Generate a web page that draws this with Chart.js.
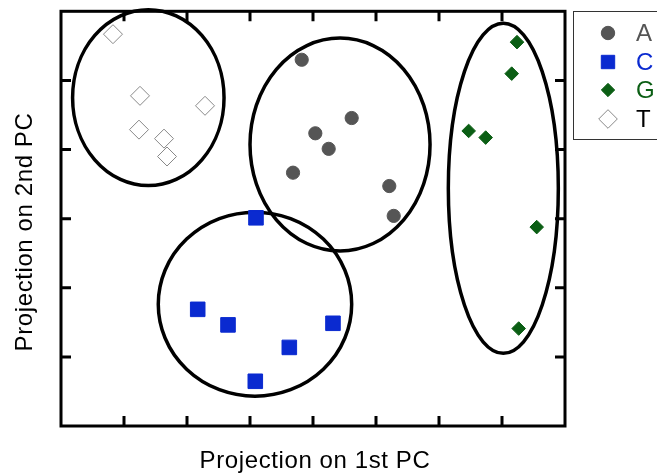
<!DOCTYPE html>
<html><head><meta charset="utf-8">
<script src="https://cdn.jsdelivr.net/npm/chart.js@4.4.1/dist/chart.umd.min.js"></script>
<style>html,body{margin:0;padding:0;background:#fff}#wrap{width:657px;height:473px;position:relative}</style>
</head><body><div id="wrap"><canvas id="c" width="657" height="473"></canvas></div>
<script>
// ---- data (PC units) ----
const seriesLabels = ['A', 'C', 'G', 'T'];
const aX = [3.821, 4.614, 4.037, 4.249, 3.683, 5.211, 5.281];
const aY = [5.299, 4.456, 4.235, 4.010, 3.665, 3.472, 3.040];
const cX = [3.095, 2.170, 2.651, 4.317, 3.624, 3.084];
const cY = [3.012, 1.688, 1.463, 1.486, 1.137, 0.647];
const gX = [7.238, 7.154, 6.471, 6.741, 7.551, 7.265];
const gY = [5.554, 5.098, 4.269, 4.173, 2.878, 1.410];
const tX = [0.825, 1.254, 2.286, 1.238, 1.635, 1.683];
const tY = [5.669, 4.777, 4.633, 4.288, 4.158, 3.899];
const xTicks = [0, 1, 2, 3, 4, 5, 6, 7, 8];
const yTicks = [0, 1, 2, 3, 4, 5, 6];
// cluster ellipses: centre and semi-axes in PC units (T, A, C, G)
const ellipseCx = [1.386, 4.429, 3.079, 7.021];
const ellipseCy = [4.751, 4.072, 1.763, 3.439];
const ellipseRx = [1.202, 1.429, 1.535, 0.873];
const ellipseRy = [1.273, 1.540, 1.331, 2.388];
const xTitle = 'Projection on 1st PC';
const yTitle = 'Projection on 2nd PC';

const pts = (xs, ys) => xs.map((x, i) => ({x: x, y: ys[i]}));
const FONT = '24px "Liberation Sans", Arial, sans-serif';
const legendTextColors = ['#555555', '#0a2ad0', '#0b5e14', '#000000'];

const decor = {
  id: 'decor',
  beforeDatasetsDraw(chart) {
    const ctx = chart.ctx, xs = chart.scales.x, ys = chart.scales.y;
    ctx.save();
    ctx.strokeStyle = '#000';
    ctx.lineWidth = 3.5;
    for (let i = 0; i < ellipseCx.length; i++) {
      const cx = xs.getPixelForValue(ellipseCx[i]);
      const cy = ys.getPixelForValue(ellipseCy[i]);
      const rx = Math.abs(xs.getPixelForValue(ellipseCx[i] + ellipseRx[i]) - cx);
      const ry = Math.abs(ys.getPixelForValue(ellipseCy[i] + ellipseRy[i]) - cy);
      ctx.beginPath();
      ctx.ellipse(cx, cy, rx, ry, 0, 0, Math.PI * 2);
      ctx.stroke();
    }
    ctx.restore();
  },
  afterDraw(chart) {
    const ctx = chart.ctx, xs = chart.scales.x, ys = chart.scales.y;
    const a = chart.chartArea;
    ctx.save();
    // frame
    ctx.strokeStyle = '#000';
    ctx.lineWidth = 3;
    ctx.strokeRect(a.left, a.top, a.right - a.left, a.bottom - a.top);
    // inward ticks on all four sides
    const tl = 10;
    ctx.beginPath();
    xTicks.forEach(v => {
      const px = xs.getPixelForValue(v);
      if (px <= a.left + 1 || px >= a.right - 1) return;
      ctx.moveTo(px, a.bottom); ctx.lineTo(px, a.bottom - tl);
      ctx.moveTo(px, a.top); ctx.lineTo(px, a.top + tl);
    });
    yTicks.forEach(v => {
      const py = ys.getPixelForValue(v);
      if (py <= a.top + 1 || py >= a.bottom - 1) return;
      ctx.moveTo(a.left, py); ctx.lineTo(a.left + tl, py);
      ctx.moveTo(a.right, py); ctx.lineTo(a.right - tl, py);
    });
    ctx.stroke();
    // axis titles
    ctx.fillStyle = '#000';
    ctx.font = FONT;
    try { ctx.letterSpacing = '0.6px'; } catch (e) {}
    ctx.textAlign = 'center';
    ctx.textBaseline = 'alphabetic';
    ctx.fillText(xTitle, (a.left + a.right) / 2 + 2, 468);
    ctx.save();
    ctx.translate(32, 232);
    ctx.rotate(-Math.PI / 2);
    ctx.fillText(yTitle, 0, 0);
    ctx.restore();
    try { ctx.letterSpacing = '0px'; } catch (e) {}
    // legend
    ctx.lineWidth = 1;
    ctx.strokeStyle = '#333';
    ctx.strokeRect(573.5, 11.5, 120, 128);
    const rows = [33, 62, 90, 119];
    chart.data.datasets.forEach((ds, i) => {
      const x = 608, y = rows[i];
      ctx.save();
      ctx.fillStyle = ds.backgroundColor;
      ctx.strokeStyle = ds.borderColor;
      ctx.lineWidth = ds.borderWidth;
      ctx.beginPath();
      if (ds.pointStyle === 'circle') {
        ctx.arc(x, y, 6.7, 0, Math.PI * 2);
      } else if (ds.pointStyle === 'rect') {
        ctx.rect(x - 6.7, y - 6.7, 13.4, 13.4);
      } else {
        const r = ds.pointRadius * 0.98;
        ctx.moveTo(x, y - r); ctx.lineTo(x + r, y); ctx.lineTo(x, y + r); ctx.lineTo(x - r, y); ctx.closePath();
      }
      ctx.fill();
      ctx.stroke();
      ctx.restore();
      ctx.fillStyle = legendTextColors[i];
      ctx.textAlign = 'left';
      ctx.textBaseline = 'middle';
      ctx.fillText(ds.label, 636, y + 1);
    });
    ctx.restore();
  }
};

new Chart(document.getElementById('c'), {
  type: 'scatter',
  data: {
    datasets: [
      {label: seriesLabels[0], data: pts(aX, aY), pointStyle: 'circle', pointRadius: 6.6,
       backgroundColor: '#555555', borderColor: '#555555', borderWidth: 1},
      {label: seriesLabels[1], data: pts(cX, cY), pointStyle: 'rect', pointRadius: 10.3,
       backgroundColor: '#0a2ad0', borderColor: '#0a2ad0', borderWidth: 1},
      {label: seriesLabels[2], data: pts(gX, gY), pointStyle: 'rectRot', pointRadius: 6.8,
       backgroundColor: '#0b5e14', borderColor: '#0b5e14', borderWidth: 1},
      {label: seriesLabels[3], data: pts(tX, tY), pointStyle: 'rectRot', pointRadius: 9.5,
       backgroundColor: '#ffffff', borderColor: '#888888', borderWidth: 1}
    ]
  },
  options: {
    responsive: false,
    animation: false,
    devicePixelRatio: 1,
    layout: {padding: {left: 61, right: 92, top: 9, bottom: 47}},
    scales: {
      x: {type: 'linear', min: 0, max: 8, display: false},
      y: {type: 'linear', min: 0, max: 6, display: false}
    },
    plugins: {legend: {display: false}, tooltip: {enabled: false}},
    events: []
  },
  plugins: [decor]
});
</script></body></html>
